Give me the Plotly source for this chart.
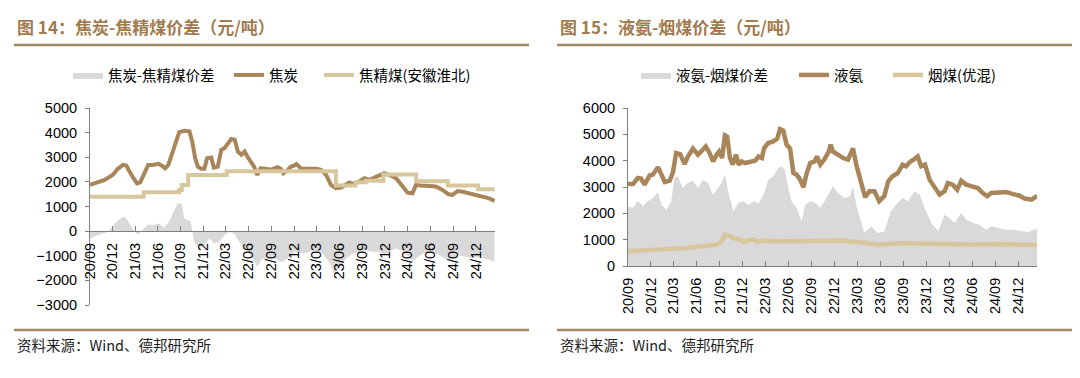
import plotly.graph_objects as go

# ---------------- Left chart data: 焦炭 / 焦精煤 ----------------
coke_dates = ["2020-09-01","2020-10-04","2020-10-30","2020-12-01","2020-12-22","2021-01-12","2021-01-25","2021-02-15","2021-03-09","2021-03-22",
              "2021-04-08","2021-04-23","2021-05-11","2021-06-04","2021-06-17","2021-06-30","2021-07-13","2021-07-26","2021-08-13","2021-08-26",
              "2021-09-16","2021-10-06","2021-10-17","2021-10-29","2021-11-09","2021-11-22","2021-12-05","2021-12-16","2022-01-02","2022-01-12",
              "2022-01-28","2022-02-11","2022-02-24","2022-03-10","2022-03-23","2022-04-06","2022-04-19","2022-05-03","2022-05-16","2022-05-27",
              "2022-06-10","2022-06-23","2022-07-06","2022-07-19","2022-08-09","2022-08-29","2022-09-12","2022-09-25","2022-10-08","2022-10-19",
              "2022-11-02","2022-11-18","2022-12-01","2022-12-10","2022-12-30","2023-02-02","2023-03-01","2023-03-19","2023-04-09","2023-04-28",
              "2023-05-18","2023-06-08","2023-06-28","2023-07-11","2023-07-31","2023-08-20","2023-09-10","2023-09-30","2023-10-20","2023-11-09",
              "2023-11-29","2023-12-19","2024-01-15","2024-02-11","2024-03-01","2024-03-21","2024-04-04","2024-04-24","2024-05-27","2024-06-23",
              "2024-07-20","2024-08-13","2024-08-29","2024-09-19","2024-10-09","2024-11-05","2024-12-03","2024-12-28","2025-01-24","2025-02-14"]
coke_price = [1875,1980,2080,2280,2530,2690,2660,2280,1940,1980,
              2350,2690,2690,2730,2660,2550,2690,3100,3710,4020,
              4076,4050,3640,2960,2620,2530,2530,2960,2990,2580,
              2620,3300,3370,3530,3740,3710,3230,3100,3230,3030,
              2830,2620,2280,2550,2530,2490,2550,2600,2530,2350,
              2450,2620,2660,2720,2530,2550,2530,2490,2280,1875,
              1740,1770,1900,1980,1900,2010,2150,2080,2170,2280,
              2350,2280,2150,1810,1560,1535,1875,1850,1830,1810,
              1670,1495,1470,1630,1600,1535,1470,1400,1330,1220]

coal_dates = ["2020-09-01","2021-04-05","2021-08-25","2021-09-05","2021-10-01","2022-03-05","2023-05-18",
              "2023-08-05","2023-09-15","2023-11-25","2024-04-05","2024-08-10","2024-12-10","2025-02-15"]
coal_price = [1400,1575,1670,1875,2280,2430,1850,1980,2050,2300,2030,1850,1700,1700]

coke_spread_dates = ["2020-09-01","2020-10-04","2020-11-13","2020-12-10","2021-01-05","2021-01-21","2021-02-07","2021-02-27","2021-03-15","2021-04-01",
                     "2021-04-21","2021-05-17","2021-06-06","2021-06-26","2021-07-16","2021-08-06","2021-08-19","2021-09-04","2021-09-15","2021-09-28",
                     "2021-10-11","2021-10-24","2021-11-13","2021-12-05","2021-12-25","2022-01-14","2022-02-03","2022-02-24","2022-03-15","2022-04-04",
                     "2022-04-24","2022-05-14","2022-05-30","2022-06-17","2022-07-06","2022-07-26","2022-08-15","2022-09-04","2022-09-25","2022-10-14",
                     "2022-11-03","2022-11-23","2022-12-01","2023-01-06","2023-02-02","2023-03-01","2023-03-25","2023-04-22","2023-05-11","2023-06-01",
                     "2023-06-28","2023-07-24","2023-08-20","2023-09-16","2023-10-12","2023-11-09","2023-11-29","2023-12-19","2024-01-15","2024-02-11",
                     "2024-03-01","2024-03-21","2024-04-11","2024-05-01","2024-05-27","2024-06-23","2024-07-20","2024-08-13","2024-08-29","2024-09-25",
                     "2024-10-22","2024-11-17","2024-12-14","2025-01-09","2025-01-29","2025-02-14"]
coke_spread = [-300,-160,-30,310,540,580,310,-30,-140,40,
               270,245,310,135,380,860,1130,1130,520,450,
               380,-430,-700,-570,-300,-500,-430,-160,-30,-95,
               -430,-700,-840,-1110,-1450,-1110,-1180,-1050,-1180,-1250,
               -1110,-980,-840,-910,-840,-815,-910,-1250,-1725,-1450,
               -1110,-910,-840,-775,-840,-840,-980,-840,-700,-840,
               -980,-1250,-1050,-910,-840,-910,-1050,-1180,-1110,-980,
               -1050,-1090,-1050,-1110,-1180,-1250]

# ---------------- Right chart data: 液氨 / 烟煤 ----------------
amm_dates = ["2020-09-01","2020-09-21","2020-10-10","2020-10-23","2020-11-06","2020-11-26","2020-12-09","2020-12-29","2021-01-12","2021-01-25",
             "2021-02-14","2021-02-27","2021-03-11","2021-03-27","2021-04-14","2021-04-27","2021-05-17","2021-06-06","2021-06-19","2021-07-07",
             "2021-07-20","2021-08-05","2021-08-19","2021-08-29","2021-09-10","2021-09-21","2021-09-30","2021-10-11","2021-10-22","2021-11-04",
             "2021-11-15","2021-11-27","2021-12-10","2021-12-30","2022-01-19","2022-02-02","2022-02-15","2022-02-24","2022-03-12","2022-04-01",
             "2022-04-17","2022-04-28","2022-05-11","2022-05-24","2022-06-07","2022-06-20","2022-07-03","2022-07-17","2022-07-30","2022-08-12",
             "2022-08-26","2022-09-12","2022-09-22","2022-10-05","2022-10-21","2022-11-08","2022-11-15",
             "2022-11-24","2022-12-14","2023-01-04","2023-01-23","2023-02-12","2023-02-25","2023-03-09","2023-03-22","2023-04-01","2023-04-18",
             "2023-05-08","2023-05-27","2023-06-16","2023-07-02","2023-07-19","2023-08-09","2023-08-28","2023-09-11","2023-09-28","2023-10-11",
             "2023-10-27","2023-11-10","2023-11-25","2023-12-13","2024-01-02","2024-01-22","2024-02-11","2024-02-24","2024-03-14","2024-04-01",
             "2024-04-17","2024-05-07","2024-05-26","2024-06-22","2024-07-12","2024-07-29","2024-08-14","2024-09-10","2024-10-13","2024-11-09",
             "2024-12-05","2024-12-25","2025-01-21","2025-02-04","2025-02-13"]
amm_price = [3110,3110,3340,3320,3090,3440,3470,3750,3470,3190,
             3240,3570,4290,4250,3870,4160,4460,4230,4350,4540,
             4330,3970,4230,4350,4100,4960,4920,4100,3850,4230,
             3850,3970,3910,3970,4000,4160,4100,4480,4670,4730,
             4840,5200,5140,4610,4460,3530,3470,3280,2990,3530,
             3910,3970,4160,3850,4040,4350,4610,
             4350,4230,4100,4040,4460,3850,3470,2960,2610,2840,
             2840,2460,2650,3220,3410,3530,3850,3790,3970,4040,
             4160,3790,3850,3280,2960,2710,2840,3150,3090,2900,
             3240,3090,3030,2960,2770,2650,2770,2770,2810,2730,
             2670,2560,2520,2610,2650]

bit_dates = ["2020-09-01","2020-12-09","2021-02-14","2021-04-20","2021-06-26","2021-08-19","2021-09-08","2021-09-21","2021-10-04","2021-10-24",
             "2021-11-20","2021-12-06","2021-12-23","2022-01-13","2022-01-29","2022-02-15","2022-04-15","2022-07-17","2022-10-05","2023-01-10",
             "2023-03-02","2023-05-21","2023-08-22","2023-11-23","2024-02-24","2024-03-21","2024-06-09","2024-09-10","2024-11-29","2025-02-13"]
bit_price = [560,620,620,680,750,810,940,1190,1160,1060,
             1000,910,975,1000,910,960,940,940,975,960,
             910,810,860,850,835,810,820,835,810,800]

amm_spread_dates = ["2020-09-01","2020-09-21","2020-10-10","2020-10-30","2020-11-19","2020-12-09","2020-12-29","2021-01-12","2021-02-01","2021-02-20",
                    "2021-03-04","2021-03-17","2021-04-07","2021-04-27","2021-05-17","2021-06-06","2021-06-26","2021-07-16","2021-08-05","2021-08-25",
                    "2021-09-08","2021-09-21","2021-10-04","2021-10-24","2021-11-14","2021-12-03","2021-12-23","2022-01-13","2022-02-02","2022-02-22",
                    "2022-03-12","2022-04-01","2022-04-21","2022-05-04","2022-05-17","2022-05-31","2022-06-13","2022-07-03","2022-07-23","2022-08-06",
                    "2022-08-26","2022-09-16","2022-10-05","2022-10-25","2022-11-15",
                    "2022-11-24","2022-12-14","2023-01-10","2023-01-30","2023-02-12","2023-02-25","2023-03-15","2023-03-29","2023-04-25","2023-05-21",
                    "2023-06-16","2023-07-13","2023-08-02","2023-08-28","2023-09-18","2023-10-14","2023-11-04","2023-11-23","2023-12-20","2024-01-16",
                    "2024-02-11","2024-03-01","2024-03-21","2024-04-17","2024-05-07","2024-06-03","2024-06-29","2024-07-25","2024-08-14","2024-09-10",
                    "2024-10-13","2024-11-16","2024-12-12","2025-01-08","2025-02-04","2025-02-13"]
amm_spread = [2270,2200,2480,2270,2460,2580,2810,2330,2140,2460,
              3340,3410,2960,3150,3240,2960,3280,3150,2710,2960,
              3150,3470,2840,2080,2390,2460,2330,2460,2390,2710,
              3280,3410,3720,3780,3660,2960,2460,2200,1700,2330,
              2460,2390,2200,2520,2840,
              3030,2770,2580,2650,3030,2330,1700,1250,1510,1250,
              1320,2080,2330,2580,2460,2840,2710,2200,1630,1320,
              1950,1820,1630,2010,1760,1630,1570,1380,1510,1440,
              1380,1380,1320,1290,1380,1440]

# ---------------- Text ----------------
left_title = "<b>图 14：焦炭-焦精煤价差（元/吨）</b>"
right_title = "<b>图 15：液氨-烟煤价差（元/吨）</b>"
left_names = ["焦炭-焦精煤价差", "焦炭", "焦精煤(安徽淮北)"]
right_names = ["液氨-烟煤价差", "液氨", "烟煤(优混)"]
source_text = "资料来源：Wind、德邦研究所"

# ---------------- Style ----------------
W, H = 1080, 378
OFF = 8  # the page body adds an 8px margin around the figure
GRAY = "#D9D9D9"
BROWN = "#A8865A"
TAN = "#D8C69C"
TITLE_C = "#A27B4F"
RULE_C = "#A58866"
AXIS_C = "#7F7F7F"
CJK = "Noto Sans CJK SC"
NUM = "Liberation Sans, Arial"

def px_x(p):
    return (p - OFF) / W

def px_y(p):
    return 1 - (p - OFF) / H

fig = go.Figure()

# Left traces
fig.add_trace(go.Scatter(x=coke_spread_dates, y=coke_spread, name=left_names[0], mode="lines",
                         fill="tozeroy", fillcolor=GRAY, line=dict(width=0, color=GRAY),
                         xaxis="x", yaxis="y", legend="legend"))
fig.add_trace(go.Scatter(x=coke_dates, y=coke_price, name=left_names[1], mode="lines",
                         line=dict(width=4, color=BROWN), xaxis="x", yaxis="y", legend="legend2"))
fig.add_trace(go.Scatter(x=coal_dates, y=coal_price, name=left_names[2], mode="lines",
                         line=dict(width=4, color=TAN, shape="hv"), xaxis="x", yaxis="y", legend="legend3"))

# Right traces
fig.add_trace(go.Scatter(x=amm_spread_dates, y=amm_spread, name=right_names[0], mode="lines",
                         fill="tozeroy", fillcolor=GRAY, line=dict(width=0, color=GRAY),
                         xaxis="x2", yaxis="y2", legend="legend4"))
fig.add_trace(go.Scatter(x=amm_dates, y=amm_price, name=right_names[1], mode="lines",
                         line=dict(width=4.5, color=BROWN), xaxis="x2", yaxis="y2", legend="legend5"))
fig.add_trace(go.Scatter(x=bit_dates, y=bit_price, name=right_names[2], mode="lines",
                         line=dict(width=4.5, color=TAN), xaxis="x2", yaxis="y2", legend="legend6"))

# Axis geometry
L_ydom = [px_y(305), px_y(108)]
L_yrange = [-3000, 5000]
L_zero = L_ydom[0] + (0 - L_yrange[0]) / (L_yrange[1] - L_yrange[0]) * (L_ydom[1] - L_ydom[0])
R_ydom = [px_y(266), px_y(108)]

tickfont = dict(family=NUM, size=14.5, color="#000000")
xcommon = dict(type="date", tick0="2020-09-01", dtick="M3", tickformat="%y/%m", tickangle=-90,
               ticks="inside", ticklen=5, tickcolor=AXIS_C, showline=True, linecolor=AXIS_C, linewidth=1,
               showgrid=False, zeroline=False, tickfont=tickfont, fixedrange=True, automargin=False,
               ticklabelstandoff=5)
ycommon = dict(dtick=1000, ticks="outside", ticklen=4, tickcolor=AXIS_C, showline=True, linecolor=AXIS_C,
               linewidth=1, showgrid=False, zeroline=False, tickfont=tickfont, fixedrange=True, automargin=False,
               ticklabelstandoff=5)

legfont = dict(family=CJK, size=14.5, color="#000000")

def leg(xp):
    return dict(x=px_x(xp), y=px_y(75), xanchor="left", yanchor="middle", orientation="h",
                font=legfont, bgcolor="rgba(0,0,0,0)", borderwidth=0, itemclick=False, itemdoubleclick=False)

fig.update_layout(
    width=W, height=H, margin=dict(l=0, r=0, t=0, b=0, pad=0, autoexpand=False),
    paper_bgcolor="white", plot_bgcolor="white", showlegend=True,
    xaxis=dict(domain=[px_x(90), px_x(495)], range=["2020-09-01", "2025-02-16"], anchor="free",
               position=L_zero, **xcommon),
    yaxis=dict(domain=L_ydom, range=L_yrange, anchor="x", **ycommon),
    xaxis2=dict(domain=[px_x(628), px_x(1037)], range=["2020-09-01", "2025-02-12"], anchor="y2", **xcommon),
    yaxis2=dict(domain=R_ydom, range=[0, 6000], anchor="x2", **ycommon),
    legend=leg(68), legend2=leg(229), legend3=leg(319),
    legend4=leg(636), legend5=leg(794), legend6=leg(888),
)

# Titles, rules and source notes
for xp, t in [(15, left_title), (558, right_title)]:
    fig.add_annotation(x=px_x(xp), y=px_y(27), xref="paper", yref="paper", text=t, showarrow=False,
                       xanchor="left", yanchor="middle", font=dict(family=CJK, size=17, color=TITLE_C))
for xp in [15, 558]:
    fig.add_annotation(x=px_x(xp), y=px_y(344), xref="paper", yref="paper", text=source_text, showarrow=False,
                       xanchor="left", yanchor="middle", font=dict(family=CJK, size=14.5, color="#222222"))
for x0, x1 in [(14, 529), (557, 1074)]:
    for yp in [45, 330]:
        fig.add_shape(type="line", xref="paper", yref="paper", x0=px_x(x0), x1=px_x(x1), y0=px_y(yp), y1=px_y(yp),
                      line=dict(color=RULE_C, width=2.5))

fig.write_html("out.html")
